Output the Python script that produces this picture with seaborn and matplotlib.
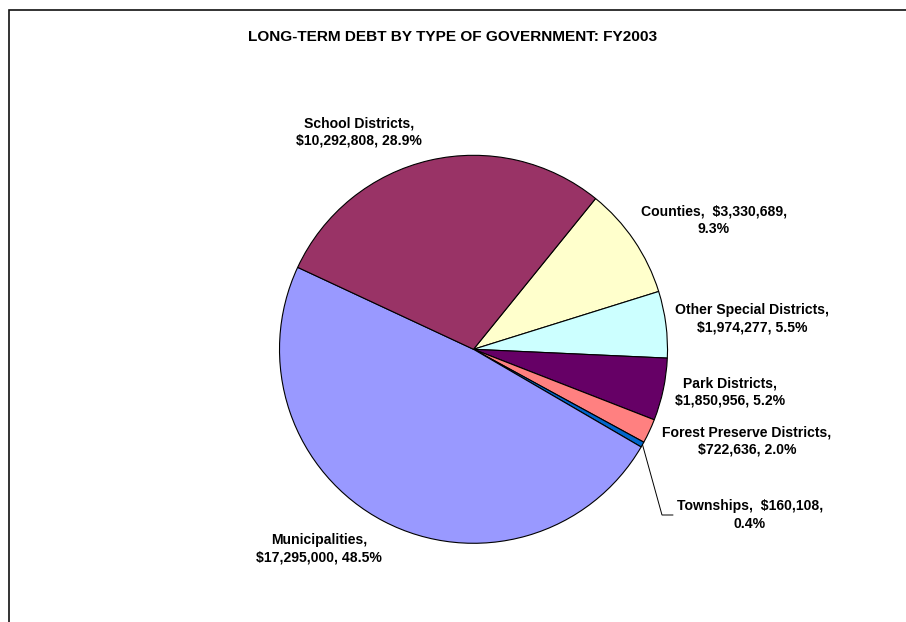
import numpy as np
import matplotlib
matplotlib.use("Agg")
import matplotlib.pyplot as plt
from matplotlib.patches import Rectangle
import seaborn as sns

# Long-term debt by type of government, FY2003 (dollars)
categories = [
    "Counties",
    "Other Special Districts",
    "Park Districts",
    "Forest Preserve Districts",
    "Townships",
    "Municipalities",
    "School Districts",
]
values = [3330689, 1974277, 1850956, 722636, 160108, 17295000, 10292808]
colors = ["#FFFFCC", "#CCFFFF", "#660066", "#FF8080", "#0066CC", "#9999FF", "#993366"]
# where the first line of each label breaks: after the name or after the amount
break_after_amount = [True, False, False, False, True, False, False]
title = "LONG-TERM DEBT BY TYPE OF GOVERNMENT: FY2003"

sns.set_theme(style="white")
plt.rcParams["font.family"] = ["Liberation Sans", "DejaVu Sans"]

W, H = 906, 622
fig = plt.figure(figsize=(W / 100, H / 100), dpi=100)
ax = fig.add_axes([0, 0, 1, 1])

cx, cy, r = 473.5, H - 349.3, 194
wedges, _ = ax.pie(
    values,
    colors=colors,
    startangle=51,
    counterclock=False,
    center=(cx, cy),
    radius=r,
    wedgeprops=dict(edgecolor="black", linewidth=0.8),
    frame=True,
)
ax.set_xlim(0, W)
ax.set_ylim(0, H)
ax.set_aspect("equal")
ax.axis("off")

total = sum(values)
label_pos = {
    "School Districts": (359, 132),
    "Counties": (714, 220),
    "Other Special Districts": (752, 319),
    "Park Districts": (730, 392),
    "Forest Preserve Districts": (747, 441),
    "Townships": (750, 515),
    "Municipalities": (319, 549),
}
for name, val, brk in zip(categories, values, break_after_amount):
    pct = val / total * 100
    if brk:
        txt = f"{name},  ${val:,},\n{pct:.1f}%"
    else:
        txt = f"{name},\n${val:,}, {pct:.1f}%"
    x, y = label_pos[name]
    ax.text(x, H - y, txt, ha="center", va="center", fontsize=10.1,
            fontweight="bold", linespacing=1.3, color="black")

# leader line for the thin Townships slice
w = wedges[categories.index("Townships")]
mid = np.deg2rad((w.theta1 + w.theta2) / 2)
x0, y0 = cx + r * np.cos(mid), cy + r * np.sin(mid)
ax.plot([x0, 662, 673], [y0, H - 515, H - 515], color="black", linewidth=0.7)

ax.text(453, H - 37, title, ha="center", va="center", fontsize=11.1,
        fontweight="bold", color="black")

# chart frame
fig.patches.append(Rectangle((8.5 / W, -0.1), 1.2, (H - 9.5) / H + 0.1,
                             transform=fig.transFigure, fill=False,
                             edgecolor="#111111", linewidth=1.2))

fig.savefig("out.png", dpi=100, facecolor="white")
